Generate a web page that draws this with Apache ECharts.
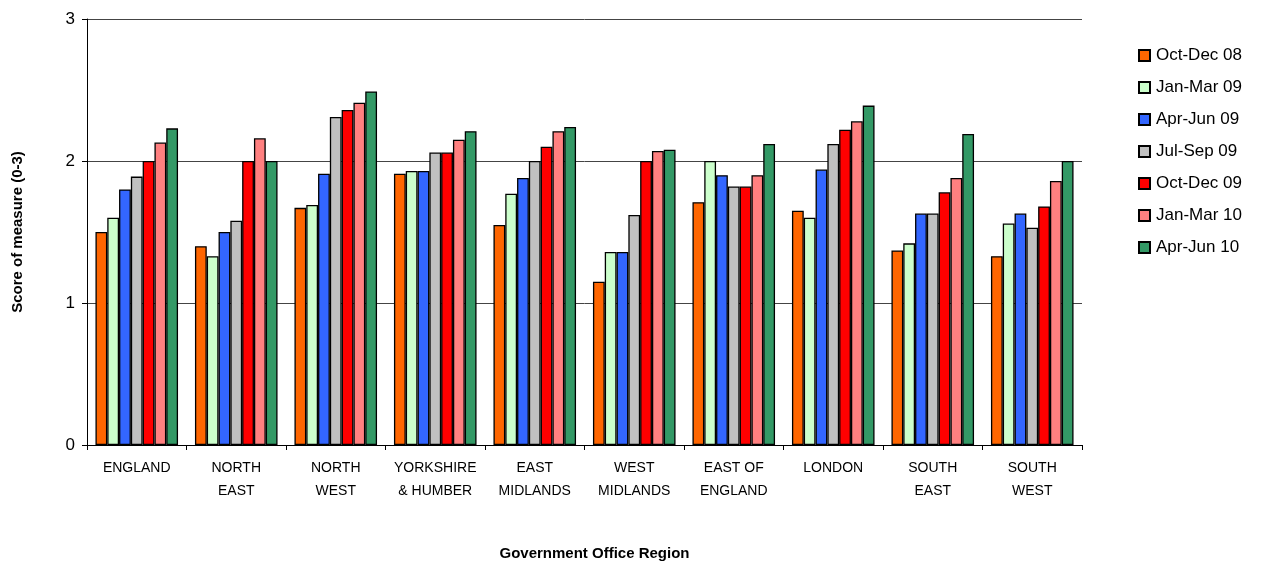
<!DOCTYPE html>
<html>
<head>
<meta charset="utf-8">
<script src="https://cdn.jsdelivr.net/npm/echarts@6/dist/echarts.min.js"></script>
<style>
  html, body { margin: 0; padding: 0; background: #fff; }
  #chart { width: 1261px; height: 562px; }
</style>
</head>
<body>
<div id="chart"></div>
<script>
// regions along the x axis
const regions = ['ENGLAND', 'NORTH\nEAST', 'NORTH\nWEST', 'YORKSHIRE\n& HUMBER', 'EAST\nMIDLANDS',
  'WEST\nMIDLANDS', 'EAST OF\nENGLAND', 'LONDON', 'SOUTH\nEAST', 'SOUTH\nWEST']

// one array per quarter
const octDec08 = [1.50, 1.40, 1.67, 1.91, 1.55, 1.15, 1.71, 1.65, 1.37, 1.33]
const janMar09 = [1.60, 1.33, 1.69, 1.93, 1.77, 1.36, 2.00, 1.60, 1.42, 1.56]
const aprJun09 = [1.80, 1.50, 1.91, 1.93, 1.88, 1.36, 1.90, 1.94, 1.63, 1.63]
const julSep09 = [1.89, 1.58, 2.31, 2.06, 2.00, 1.62, 1.82, 2.12, 1.63, 1.53]
const octDec09 = [2.00, 2.00, 2.36, 2.06, 2.10, 2.00, 1.82, 2.22, 1.78, 1.68]
const janMar10 = [2.13, 2.16, 2.41, 2.15, 2.21, 2.07, 1.90, 2.28, 1.88, 1.86]
const aprJun10 = [2.23, 2.00, 2.49, 2.21, 2.24, 2.08, 2.12, 2.39, 2.19, 2.00]

const seriesNames = ['Oct-Dec 08', 'Jan-Mar 09', 'Apr-Jun 09', 'Jul-Sep 09', 'Oct-Dec 09', 'Jan-Mar 10', 'Apr-Jun 10']
const seriesData = [octDec08, janMar09, aprJun09, julSep09, octDec09, janMar10, aprJun10]
const colors = ['#FF6600', '#CCFFCC', '#3366FF', '#C0C0C0', '#FF0000', '#FF8080', '#339966']

const font = 'Arial, "Liberation Sans", sans-serif'

const chart = echarts.init(document.getElementById('chart'))

chart.setOption({
  animation: false,
  grid: {
    left: 87,
    right: 179,
    top: 19,
    bottom: 117,
    outerBoundsMode: 'none',
    containLabel: false
  },
  legend: {
    orient: 'vertical',
    left: 1133,
    top: 42,
    itemWidth: 11,
    itemHeight: 11,
    itemGap: 15,
    icon: 'rect',
    textStyle: { fontFamily: font, fontSize: 17, color: '#000', padding: [0, 0, 0, 1] },
    data: seriesNames
  },
  xAxis: {
    type: 'category',
    data: regions,
    name: 'Government Office Region',
    nameLocation: 'middle',
    nameGap: 101,
    nameTextStyle: { fontFamily: font, fontSize: 15, fontWeight: 'bold', color: '#000', padding: [0, 0, 0, 20] },
    axisLine: { lineStyle: { color: '#000', width: 1 } },
    axisTick: { show: true, alignWithLabel: false, length: 5, lineStyle: { color: '#000' } },
    axisLabel: {
      fontFamily: font,
      fontSize: 14,
      color: '#000',
      margin: 12,
      lineHeight: 23,
      interval: 0
    },
    splitLine: { show: false }
  },
  yAxis: {
    type: 'value',
    min: 0,
    max: 3,
    interval: 1,
    name: 'Score of measure (0-3)',
    nameLocation: 'middle',
    nameGap: 62,
    nameRotate: 90,
    nameTextStyle: { fontFamily: font, fontSize: 15, fontWeight: 'bold', color: '#000' },
    axisLine: { show: true, lineStyle: { color: '#000', width: 1 } },
    axisTick: { show: true, length: 5, lineStyle: { color: '#000' } },
    axisLabel: { fontFamily: font, fontSize: 17, color: '#000', margin: 12 },
    splitLine: { show: true, lineStyle: { color: '#444', width: 1 } }
  },
  series: seriesNames.map((name, i) => ({
    name: name,
    type: 'bar',
    data: seriesData[i],
    barGap: '0%',
    barCategoryGap: '17%',
    itemStyle: {
      color: colors[i],
      borderColor: '#000',
      borderWidth: 1.3
    }
  }))
})
</script>
</body>
</html>
